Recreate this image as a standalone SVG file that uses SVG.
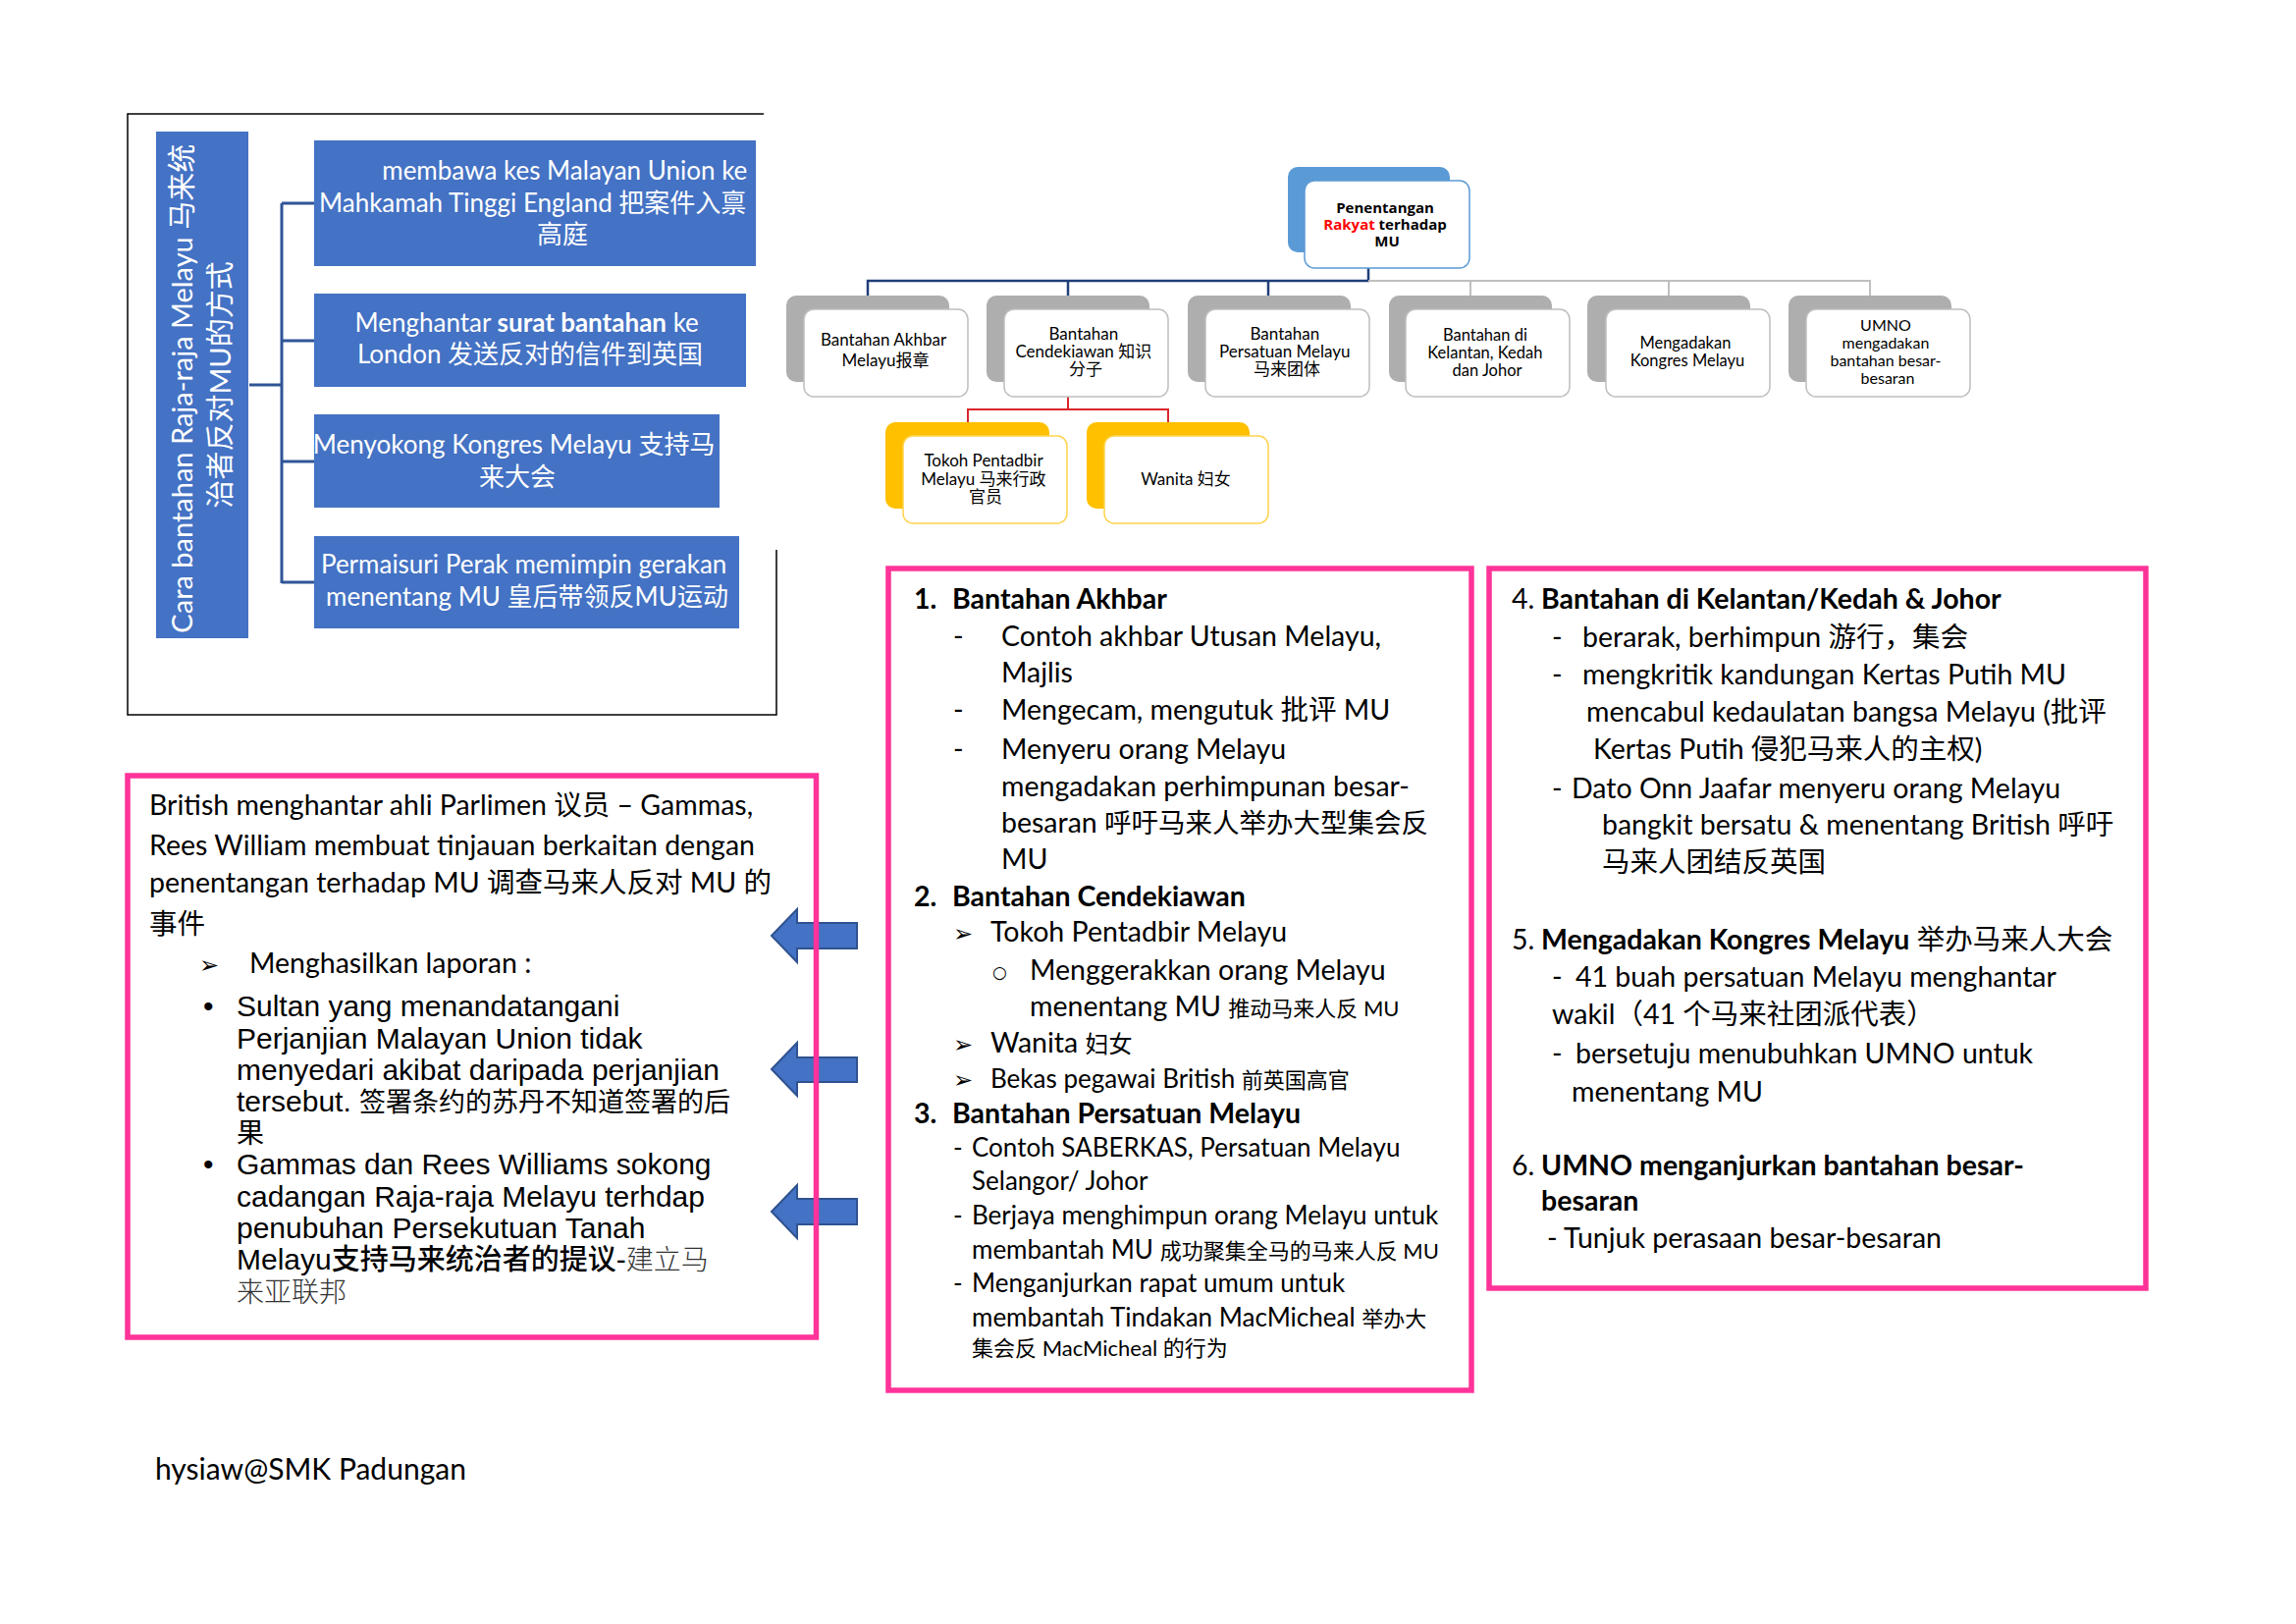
<svg xmlns="http://www.w3.org/2000/svg" width="2339" height="1654" viewBox="0 0 2339 1654">
<style>
.lt{font-family:Lato,"Noto Sans CJK SC","DejaVu Sans",sans-serif;}
.os{font-family:"Open Sans","Noto Sans CJK SC",sans-serif;}
.ar{font-family:"Liberation Sans",Arial,"Noto Sans CJK SC",sans-serif;}
.sym{font-family:"DejaVu Sans",sans-serif;}
.wt{fill:#fff;}
.bk{fill:#000;}
.b{font-weight:bold;}
.blue{fill:#4472C4;}
.pink{fill:none;stroke:#FF3399;stroke-width:5.5;}
.frame{fill:none;stroke:#000;stroke-width:1.5;}
.shG{fill:#AEAEAE;}
.shB{fill:#5B9BD5;}
.shY{fill:#FFC000;}
.frG{fill:#fff;stroke:#BFBFBF;stroke-width:1.5;}
.frB{fill:#fff;stroke:#5B9BD5;stroke-width:1.5;}
.frY{fill:#fff;stroke:#FFD34D;stroke-width:1.5;}
.arw{fill:#4472C4;stroke:#2F528F;stroke-width:2;}
.c17{font-size:17px;}
.c16{font-size:16px;}
</style>
<rect width="2339" height="1654" fill="#fff"/>

<!-- top-left frame -->
<path class="frame" d="M778 116 H130 V728 H791 V560"/>

<g id="connectors" fill="none">
  <path d="M254 392 H287 M287 207 V594 M287 207 H320 M287 347 H320 M287 470 H320 M287 593 H320" stroke="#2F5597" stroke-width="3"/>
  <path d="M1394 257 V286 H884 V301 M1088 286 V301 M1292 286 V301" stroke="#203E7A" stroke-width="2.5"/>
  <path d="M1394 286 H1905 V301 M1498 286 V301 M1700 286 V301" stroke="#BFBFBF" stroke-width="2"/>
  <path d="M1088 389 V417 H986 V430 M1088 417 H1190 V430" stroke="#D9262C" stroke-width="2"/>
</g>

<!-- left title vertical box -->
<g id="title-vertical">
  <rect class="blue" x="159" y="134" width="94" height="516"/>
  <text class="lt wt" font-size="29" text-anchor="middle" transform="translate(206,392) rotate(-90)">
    <tspan x="0" y="-10">Cara bantahan Raja-raja Melayu 马来统</tspan>
    <tspan x="0" y="29">治者反对MU的方式</tspan>
  </text>
</g>

<g id="box-kes">
  <rect class="blue" x="320" y="143" width="450" height="128"/>
  <text class="lt wt" font-size="26">
    <tspan x="768" y="183" text-anchor="end">membawa kes Malayan Union ke</tspan>
    <tspan x="546" y="216" text-anchor="middle">Mahkamah Tinggi England 把案件入禀</tspan>
    <tspan x="573" y="248" text-anchor="middle">高庭</tspan>
  </text>
</g>
<g id="box-surat">
  <rect class="blue" x="320" y="299" width="440" height="95"/>
  <text class="lt wt" font-size="26" text-anchor="middle">
    <tspan x="540" y="338">Menghantar <tspan class="b">surat bantahan</tspan> ke</tspan>
    <tspan x="540" y="370">London 发送反对的信件到英国</tspan>
  </text>
</g>
<g id="box-kongres">
  <rect class="blue" x="320" y="422" width="413" height="95"/>
  <text class="lt wt" font-size="26" text-anchor="middle">
    <tspan x="527" y="462">Menyokong Kongres Melayu 支持马</tspan>
    <tspan x="527" y="495">来大会</tspan>
  </text>
</g>
<g id="box-permaisuri">
  <rect class="blue" x="320" y="546" width="433" height="94"/>
  <text class="lt wt" font-size="26" text-anchor="middle">
    <tspan x="537" y="584">Permaisuri Perak memimpin gerakan</tspan>
    <tspan x="537" y="617">menentang MU 皇后带领反MU运动</tspan>
  </text>
</g>

<!-- org chart -->
<g id="root">
  <rect class="shB" x="1312" y="170" width="165" height="87" rx="10"/>
  <rect class="frB" x="1329" y="184" width="168" height="89" rx="10"/>
  <text class="os b" font-size="15" text-anchor="middle">
    <tspan x="1413" y="217">Penentangan</tspan>
    <tspan x="1413" y="234"><tspan fill="#FF0000">Rakyat</tspan> terhadap</tspan>
    <tspan x="1413" y="251">MU</tspan>
  </text>
</g>
<g id="child-akhbar">
  <rect class="shG" x="801" y="301" width="166" height="88" rx="10"/>
  <rect class="frG" x="819" y="315" width="167" height="89" rx="10"/>
  <text class="lt c17" text-anchor="middle">
    <tspan x="902" y="352">Bantahan Akhbar</tspan>
    <tspan x="902" y="373">Melayu报章</tspan>
  </text>
</g>
<g id="child-cendekiawan">
  <rect class="shG" x="1005" y="301" width="166" height="88" rx="10"/>
  <rect class="frG" x="1023" y="315" width="167" height="89" rx="10"/>
  <text class="lt c17" text-anchor="middle">
    <tspan x="1106" y="346">Bantahan</tspan>
    <tspan x="1106" y="364">Cendekiawan 知识</tspan>
    <tspan x="1106" y="382">分子</tspan>
  </text>
</g>
<g id="child-persatuan">
  <rect class="shG" x="1210" y="301" width="166" height="88" rx="10"/>
  <rect class="frG" x="1228" y="315" width="167" height="89" rx="10"/>
  <text class="lt c17" text-anchor="middle">
    <tspan x="1311" y="346">Bantahan</tspan>
    <tspan x="1311" y="364">Persatuan Melayu</tspan>
    <tspan x="1311" y="382">马来团体</tspan>
  </text>
</g>
<g id="child-kelantan">
  <rect class="shG" x="1415" y="301" width="166" height="88" rx="10"/>
  <rect class="frG" x="1432" y="315" width="167" height="89" rx="10"/>
  <text class="lt" font-size="16.5" text-anchor="middle">
    <tspan x="1515" y="347">Bantahan di</tspan>
    <tspan x="1515" y="365">Kelantan, Kedah</tspan>
    <tspan x="1515" y="383">dan Johor</tspan>
  </text>
</g>
<g id="child-kongres">
  <rect class="shG" x="1617" y="301" width="166" height="88" rx="10"/>
  <rect class="frG" x="1636" y="315" width="167" height="89" rx="10"/>
  <text class="lt" font-size="16.5" text-anchor="middle">
    <tspan x="1719" y="355">Mengadakan</tspan>
    <tspan x="1719" y="373">Kongres Melayu</tspan>
  </text>
</g>
<g id="child-umno">
  <rect class="shG" x="1822" y="301" width="166" height="88" rx="10"/>
  <rect class="frG" x="1840" y="315" width="167" height="89" rx="10"/>
  <text class="lt" font-size="16" text-anchor="middle">
    <tspan x="1923" y="337">UMNO</tspan>
    <tspan x="1923" y="355">mengadakan</tspan>
    <tspan x="1923" y="373">bantahan besar-</tspan>
    <tspan x="1923" y="391">besaran</tspan>
  </text>
</g>
<g id="sub-tokoh">
  <rect class="shY" x="902" y="430" width="167" height="88" rx="10"/>
  <rect class="frY" x="920" y="444" width="167" height="89" rx="10"/>
  <text class="lt c17" text-anchor="middle">
    <tspan x="1004" y="475">Tokoh Pentadbir</tspan>
    <tspan x="1004" y="494">Melayu 马来行政</tspan>
    <tspan x="1004" y="512">官员</tspan>
  </text>
</g>
<g id="sub-wanita">
  <rect class="shY" x="1107" y="430" width="166" height="88" rx="10"/>
  <rect class="frY" x="1125" y="444" width="167" height="89" rx="10"/>
  <text class="lt c17" text-anchor="middle">
    <tspan x="1208" y="494">Wanita 妇女</tspan>
  </text>
</g>

<!-- block arrows -->
<g id="arrows">
  <path class="arw" d="M786 953 L812 926 L812 940 L873 940 L873 966 L812 966 L812 980 Z"/>
  <path class="arw" d="M786 1089 L812 1062 L812 1077 L873 1077 L873 1102 L812 1102 L812 1116 Z"/>
  <path class="arw" d="M786 1234 L812 1207 L812 1221 L873 1221 L873 1247 L812 1247 L812 1261 Z"/>
</g>

<!-- left pink box -->
<g id="box-british">
  <rect class="pink" x="130" y="790" width="701.5" height="572"/>
  <text class="lt bk" font-size="28.5">
    <tspan x="152" y="830">British menghantar ahli Parlimen 议员 – Gammas,</tspan>
    <tspan x="152" y="871">Rees William membuat tinjauan berkaitan dengan</tspan>
    <tspan x="152" y="909">penentangan terhadap MU 调查马来人反对 MU 的</tspan>
    <tspan x="152" y="951">事件</tspan>
  </text>
  <text class="sym bk" font-size="24" x="203" y="991">➢</text>
  <text class="lt bk" font-size="28.5" x="254" y="991">Menghasilkan laporan :</text>
  <text class="ar bk" font-size="30">
    <tspan x="207" y="1035">•</tspan>
    <tspan x="241" y="1035">Sultan yang menandatangani</tspan>
    <tspan x="241" y="1068">Perjanjian Malayan Union tidak</tspan>
    <tspan x="241" y="1100">menyedari akibat daripada perjanjian</tspan>
    <tspan x="241" y="1132">tersebut.  <tspan font-size="27">签署条约的苏丹不知道签署的后</tspan></tspan>
    <tspan x="241" y="1164" font-size="28">果</tspan>
    <tspan x="207" y="1196">•</tspan>
    <tspan x="241" y="1196">Gammas dan Rees Williams sokong</tspan>
    <tspan x="241" y="1229">cadangan Raja-raja Melayu terhdap</tspan>
    <tspan x="241" y="1261">penubuhan Persekutuan Tanah</tspan>
    <tspan x="241" y="1293">Melayu<tspan font-weight="500" font-size="29">支持马来统治者的提议</tspan>-<tspan font-size="28" font-weight="300" fill="#333">建立马</tspan></tspan>
    <tspan x="241" y="1326" font-size="28" font-weight="300" fill="#333">来亚联邦</tspan>
  </text>
</g>

<!-- middle pink box -->
<g id="box-bantahan-1-3">
  <rect class="pink" x="905" y="579" width="594" height="837"/>
  <text class="lt bk" font-size="28.5">
    <tspan x="931" y="620" class="b">1.</tspan>
    <tspan x="970" y="620" class="b">Bantahan Akhbar</tspan>
    <tspan x="971" y="658">-</tspan>
    <tspan x="1020" y="658">Contoh akhbar Utusan Melayu,</tspan>
    <tspan x="1020" y="695">Majlis</tspan>
    <tspan x="971" y="733">-</tspan>
    <tspan x="1020" y="733">Mengecam, mengutuk 批评 MU</tspan>
    <tspan x="971" y="773">-</tspan>
    <tspan x="1020" y="773">Menyeru orang Melayu</tspan>
    <tspan x="1020" y="811">mengadakan perhimpunan besar-</tspan>
    <tspan x="1020" y="848">besaran <tspan font-size="27.5">呼吁马来人举办大型集会反</tspan></tspan>
    <tspan x="1020" y="885">MU</tspan>
    <tspan x="931" y="923" class="b">2.</tspan>
    <tspan x="970" y="923" class="b">Bantahan Cendekiawan</tspan>
    <tspan x="1009" y="959">Tokoh Pentadbir Melayu</tspan>
    <tspan x="1049" y="998">Menggerakkan orang Melayu</tspan>
    <tspan x="1049" y="1035">menentang MU <tspan font-size="22">推动马来人反 MU</tspan></tspan>
    <tspan x="1009" y="1072">Wanita <tspan font-size="24">妇女</tspan></tspan>
    <tspan x="1009" y="1108" font-size="26">Bekas pegawai British <tspan font-size="22">前英国高官</tspan></tspan>
    <tspan x="931" y="1144" class="b">3.</tspan>
    <tspan x="970" y="1144" class="b">Bantahan Persatuan Melayu</tspan>
  </text>
  <text class="sym bk" font-size="24">
    <tspan x="971" y="959">➢</tspan>
    <tspan x="971" y="1072">➢</tspan>
    <tspan x="971" y="1108">➢</tspan>
    <tspan x="1011" y="996" font-size="17">○</tspan>
  </text>
  <text class="lt bk" font-size="26">
    <tspan x="971" y="1178">-</tspan>
    <tspan x="990" y="1178">Contoh SABERKAS, Persatuan Melayu</tspan>
    <tspan x="990" y="1212">Selangor/ Johor</tspan>
    <tspan x="971" y="1247">-</tspan>
    <tspan x="990" y="1247">Berjaya menghimpun orang Melayu untuk</tspan>
    <tspan x="990" y="1282">membantah MU <tspan font-size="22">成功聚集全马的马来人反 MU</tspan></tspan>
    <tspan x="971" y="1316">-</tspan>
    <tspan x="990" y="1316">Menganjurkan rapat umum untuk</tspan>
    <tspan x="990" y="1351">membantah Tindakan MacMicheal <tspan font-size="22">举办大</tspan></tspan>
    <tspan x="990" y="1381" font-size="22">集会反 MacMicheal 的行为</tspan>
  </text>
</g>

<!-- right pink box -->
<g id="box-bantahan-4-6">
  <rect class="pink" x="1517" y="579" width="669" height="733"/>
  <text class="lt bk" font-size="28.5">
    <tspan x="1540" y="620">4. </tspan>
    <tspan x="1570" y="620" class="b">Bantahan di Kelantan/Kedah &amp; Johor</tspan>
    <tspan x="1581" y="659">-</tspan>
    <tspan x="1612" y="659">berarak, berhimpun 游行，集会</tspan>
    <tspan x="1581" y="697">-</tspan>
    <tspan x="1612" y="697">mengkritik kandungan Kertas Putih MU</tspan>
    <tspan x="1616" y="735">mencabul kedaulatan bangsa Melayu (批评</tspan>
    <tspan x="1623" y="773">Kertas Putih 侵犯马来人的主权)</tspan>
    <tspan x="1581" y="813">-</tspan>
    <tspan x="1601" y="813">Dato Onn Jaafar menyeru orang Melayu</tspan>
    <tspan x="1632" y="850">bangkit bersatu &amp; menentang British 呼吁</tspan>
    <tspan x="1632" y="888">马来人团结反英国</tspan>
    <tspan x="1540" y="967">5. </tspan>
    <tspan x="1570" y="967"><tspan class="b">Mengadakan Kongres Melayu</tspan> 举办马来人大会</tspan>
    <tspan x="1581" y="1005">-</tspan>
    <tspan x="1605" y="1005">41 buah persatuan Melayu menghantar</tspan>
    <tspan x="1581" y="1043">wakil（41 个马来社团派代表）</tspan>
    <tspan x="1581" y="1083">-</tspan>
    <tspan x="1605" y="1083">bersetuju menubuhkan UMNO untuk</tspan>
    <tspan x="1601" y="1122">menentang MU</tspan>
    <tspan x="1540" y="1197">6. </tspan>
    <tspan x="1570" y="1197" class="b">UMNO menganjurkan bantahan besar-</tspan>
    <tspan x="1570" y="1233" class="b">besaran</tspan>
    <tspan x="1576" y="1271">- Tunjuk perasaan besar-besaran</tspan>
  </text>
</g>

<text class="lt bk" font-size="30" x="158" y="1507">hysiaw@SMK Padungan</text>
</svg>
